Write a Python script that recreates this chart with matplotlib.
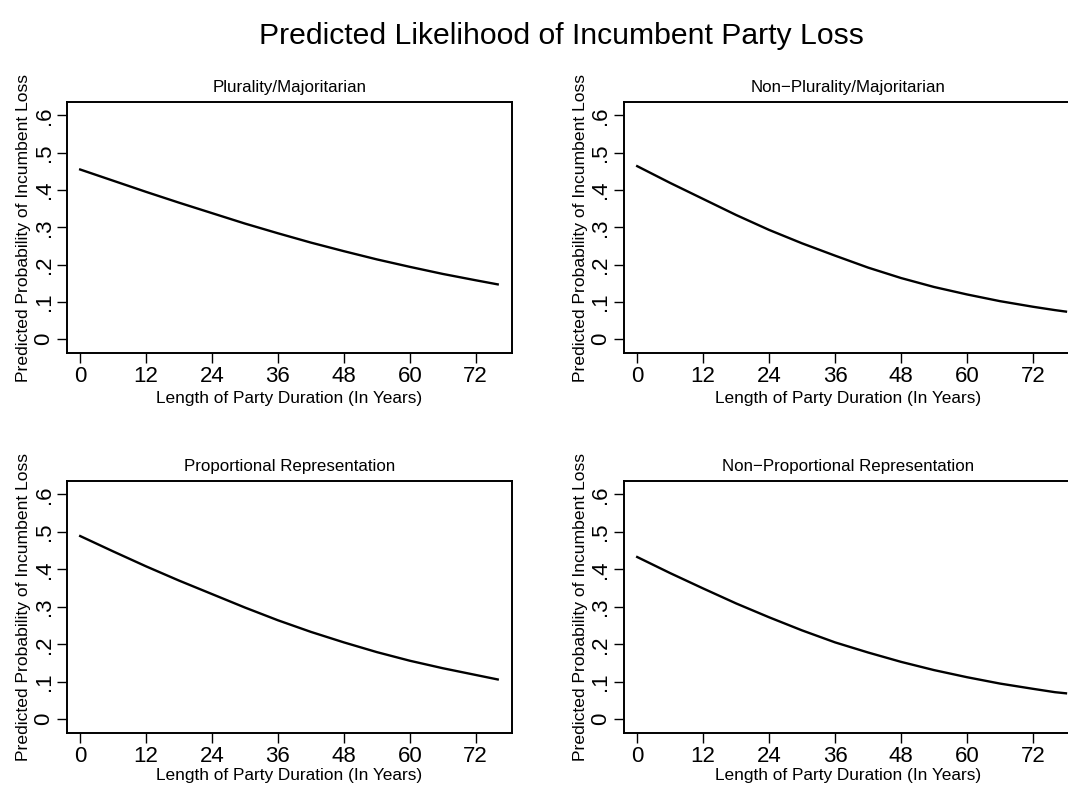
import numpy as np
import matplotlib.pyplot as plt

plt.rcParams["font.family"] = ["Liberation Sans", "DejaVu Sans"]

# years since the party took office
YEARS = [0, 6, 12, 18, 24, 30, 36, 42, 48, 54, 60, 66, 72, 76]
YEARS_WIDE = YEARS + [78]

PANEL_TITLES = [
    "Plurality/Majoritarian",
    "Non\u2212Plurality/Majoritarian",
    "Proportional Representation",
    "Non\u2212Proportional Representation",
]

# predicted probability of incumbent loss for each system type
PROB_PLURALITY = [0.455, 0.425, 0.395, 0.366, 0.338, 0.310, 0.284,
                  0.259, 0.236, 0.214, 0.194, 0.175, 0.158, 0.147]
PROB_NON_PLURALITY = [0.464, 0.419, 0.376, 0.333, 0.293, 0.257, 0.224,
                      0.192, 0.164, 0.140, 0.120, 0.102, 0.087, 0.078, 0.074]
PROB_PR = [0.489, 0.448, 0.408, 0.370, 0.334, 0.298, 0.264,
           0.233, 0.205, 0.179, 0.156, 0.136, 0.118, 0.106]
PROB_NON_PR = [0.433, 0.390, 0.349, 0.309, 0.272, 0.237, 0.205,
               0.178, 0.153, 0.131, 0.112, 0.095, 0.081, 0.072, 0.069]

X_TICKS = [0, 12, 24, 36, 48, 60, 72]
Y_TICKS = [0, 0.1, 0.2, 0.3, 0.4, 0.5, 0.6]
Y_TICK_LABELS = ["0", ".1", ".2", ".3", ".4", ".5", ".6"]

W, H = 1068, 785
fig = plt.figure(figsize=(W / 100, H / 100), dpi=100)


def px_axes(left, top, right, bottom):
    return fig.add_axes([left / W, 1 - bottom / H, (right - left) / W, (bottom - top) / H])


# (axes, x, y, xlim, xlabel pad)
panels = [
    (px_axes(67, 102, 512, 353), YEARS, PROB_PLURALITY, (-2.4, 78.6), 3),
    (px_axes(624, 102, 1072, 353), YEARS_WIDE, PROB_NON_PLURALITY, (-2.4, 79.1), 3),
    (px_axes(67, 481, 512, 733), YEARS, PROB_PR, (-2.4, 78.6), 1),
    (px_axes(624, 481, 1072, 733), YEARS_WIDE, PROB_NON_PR, (-2.4, 79.1), 1),
]

for (ax, xs, ys, xlim, xpad), title in zip(panels, PANEL_TITLES):
    ax.plot(xs, ys, color="black", lw=1.7)
    ax.set_xlim(*xlim)
    ax.set_ylim(-0.037, 0.636)
    ax.set_xticks(X_TICKS)
    ax.set_yticks(Y_TICKS)
    ax.set_yticklabels(Y_TICK_LABELS, rotation=90, va="center")
    ax.tick_params(axis="both", direction="out", length=7, width=1.0,
                   labelsize=16, pad=2)
    for sp in ax.spines.values():
        sp.set_linewidth(1.4)
    ax.set_title(title, fontsize=12.2, pad=7)
    ax.set_xlabel("Length of Party Duration (In Years)", fontsize=12.4, labelpad=xpad)
    ax.set_ylabel("Predicted Probability of Incumbent Loss", fontsize=12.6, labelpad=2)

fig.suptitle("Predicted Likelihood of Incumbent Party Loss", fontsize=21.7,
             x=0.526, y=0.972)

fig.savefig("out.png", dpi=100, facecolor="white")
